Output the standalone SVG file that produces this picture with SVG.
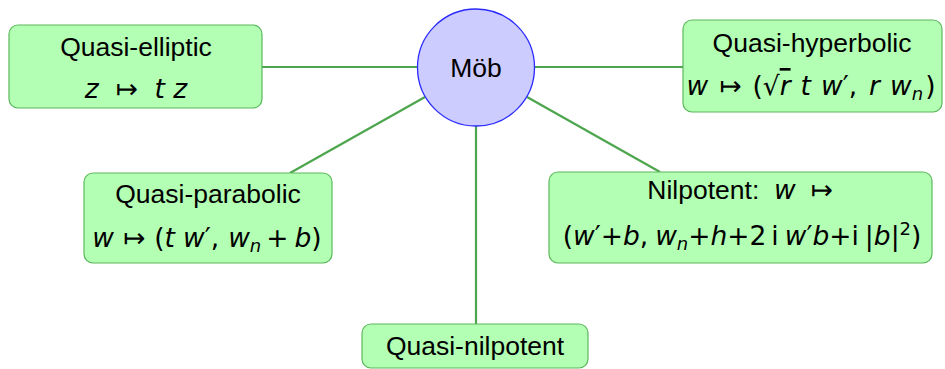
<svg xmlns="http://www.w3.org/2000/svg" width="945" height="369" viewBox="0 0 945 369">
  <style>
    .box { fill: #b3ffb3; stroke: #5cb85c; stroke-width: 1.2; }
    .hub { fill: #ccccff; stroke: #2a2aff; stroke-width: 1.3; }
    .edge { stroke: #4da64d; stroke-width: 2.2; fill: none; }
    text { font-family: "Liberation Sans", "DejaVu Sans", sans-serif; font-size: 26.5px; fill: #000; text-anchor: middle; }
    .f { font-family: "DejaVu Sans", "Liberation Sans", sans-serif; font-size: 26.5px; }
    .m { font-style: italic; }
    .r { font-style: normal; }
    .s { font-size: 18px; }
  </style>
  <rect width="945" height="369" fill="#ffffff"/>

  <g id="connectors">
    <line class="edge" x1="418" y1="67" x2="262" y2="67"/>
    <line class="edge" x1="534" y1="67" x2="683" y2="67"/>
    <line class="edge" x1="425" y1="97" x2="290" y2="173"/>
    <line class="edge" x1="527" y1="97" x2="660" y2="172"/>
    <line class="edge" x1="476" y1="125" x2="476" y2="324"/>
  </g>

  <g id="mob">
    <circle class="hub" cx="476" cy="67.5" r="58.5"/>
    <text x="476" y="77" font-size="27">Möb</text>
  </g>

  <g id="quasi-elliptic">
    <rect class="box" x="9" y="25" width="253" height="83" rx="9"/>
    <text x="136" y="56">Quasi-elliptic</text>
    <text x="136" y="98" class="f" xml:space="preserve"><tspan class="m">z</tspan>  ↦  <tspan class="m">t z</tspan></text>
  </g>

  <g id="quasi-hyperbolic">
    <rect class="box" x="683" y="20" width="259" height="92" rx="9"/>
    <text x="812" y="52">Quasi-hyperbolic</text>
    <text x="811" y="95" class="f"><tspan class="m">w</tspan><tspan dx="11">↦</tspan><tspan dx="11">(√</tspan><tspan class="m" text-decoration="overline">r</tspan><tspan class="m" dx="10">t</tspan><tspan class="m" dx="10">w</tspan>′,<tspan class="m" dx="12">r</tspan><tspan class="m" dx="10">w</tspan><tspan class="m s" dy="5">n</tspan><tspan dy="-5" dx="2">)</tspan></text>
  </g>

  <g id="quasi-parabolic">
    <rect class="box" x="84" y="173" width="248" height="90" rx="9"/>
    <text x="208" y="203">Quasi-parabolic</text>
    <text x="207" y="247" class="f"><tspan class="m">w</tspan><tspan dx="9">↦</tspan><tspan dx="9">(</tspan><tspan class="m">t</tspan><tspan class="m" dx="8">w</tspan>′,<tspan class="m" dx="9">w</tspan><tspan class="m s" dy="5">n</tspan><tspan dy="-5" dx="5">+</tspan><tspan class="m" dx="6">b</tspan>)</text>
  </g>

  <g id="nilpotent">
    <rect class="box" x="549" y="172" width="383" height="91" rx="9"/>
    <text x="740" y="199" xml:space="preserve">Nilpotent:  <tspan class="f m">w</tspan>  <tspan class="f">↦</tspan></text>
    <text x="742" y="245" class="f">(<tspan class="m">w</tspan>′+<tspan class="m">b</tspan>,<tspan class="m" dx="7">w</tspan><tspan class="m s" dy="5">n</tspan><tspan dy="-5">+</tspan><tspan class="m">h</tspan>+2<tspan dx="5">i</tspan><tspan class="m" dx="6">w</tspan>′<tspan class="m">b</tspan>+i<tspan dx="6">|</tspan><tspan class="m">b</tspan>|<tspan class="s" dy="-10">2</tspan><tspan dy="10">)</tspan></text>
  </g>

  <g id="quasi-nilpotent">
    <rect class="box" x="362" y="324" width="226" height="44" rx="9"/>
    <text x="475" y="355">Quasi-nilpotent</text>
  </g>
</svg>
